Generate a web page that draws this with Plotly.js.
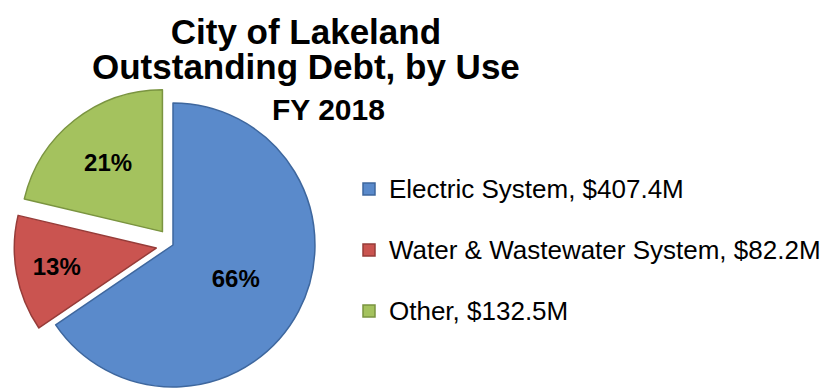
<!DOCTYPE html>
<html>
<head>
<meta charset="utf-8">
<script src="https://cdn.plot.ly/plotly-3.0.1.min.js"></script>
<style>
html,body{margin:0;padding:0;overflow:hidden;background:#fff;}
#chart{width:835px;height:420px;}
</style>
</head>
<body>
<div id="chart"></div>
<script>
// ---- data ----
var categories = ["Electric System", "Water & Wastewater System", "Other"];
var debtMillions = [407.4, 82.2, 132.5];
var percentLabels = ["66%", "13%", "21%"];
var titleLines = ["City of Lakeland", "Outstanding Debt, by Use", "FY 2018"];

// ---- styling ----
var sliceColors = ["#5A8ACB", "#CA5450", "#A4C25E"];
var edgeColors = ["#3E679E", "#963C39", "#7A9440"];
var pulls = [0, 0.12, 0.12];
var H = 420, W = 835;
var FONT = "Liberation Sans, Arial, sans-serif";

var legendLabels = categories.map(function (c, i) {
  return "<span style='font-size:26px'>" + c + ", $" + debtMillions[i].toFixed(1) + "M</span><br> ";
});

var mainTitle = titleLines.slice(0, 2).map(function (t) {
  return "<span style='font-size:35px'><b>" + t + "</b></span>";
}).join("<br>");

var trace = {
  type: "pie",
  labels: legendLabels,
  values: debtMillions,
  text: percentLabels,
  sort: false,
  direction: "clockwise",
  rotation: 0,
  pull: pulls,
  marker: {colors: sliceColors, line: {color: edgeColors, width: 1.5}},
  texttemplate: "%{text}",
  textposition: "inside",
  insidetextorientation: "horizontal",
  textfont: {family: FONT, size: 24, color: "#000", weight: "bold"},
  hoverinfo: "label+value+percent",
  domain: {x: [0, 346 / W], y: [(H - 404) / H, (H - 86) / H]}
};

function py(px) { return 1 - px / H; }

var layout = {
  width: W,
  height: H,
  margin: {l: 0, r: 0, t: 0, b: 0},
  paper_bgcolor: "#fff",
  plot_bgcolor: "#fff",
  font: {family: FONT, color: "#000"},
  showlegend: true,
  legend: {
    x: 349 / W, xanchor: "left",
    y: py(168), yanchor: "top",
    valign: "top",
    font: {family: FONT, size: 22.3, color: "#000"},
    bgcolor: "rgba(0,0,0,0)"
  },
  annotations: [
    {text: mainTitle, x: 306 / W, y: py(48.5), xref: "paper", yref: "paper",
     xanchor: "center", yanchor: "middle", align: "center", showarrow: false,
     font: {family: FONT, size: 26.9, color: "#000"}},
    {text: "<b>" + titleLines[2] + "</b>", x: 328 / W, y: py(110), xref: "paper", yref: "paper",
     xanchor: "center", yanchor: "middle", showarrow: false,
     font: {family: FONT, size: 30, color: "#000"}}
  ]
};

Plotly.newPlot("chart", [trace], layout, {staticPlot: true, displayModeBar: false});
</script>
</body>
</html>
